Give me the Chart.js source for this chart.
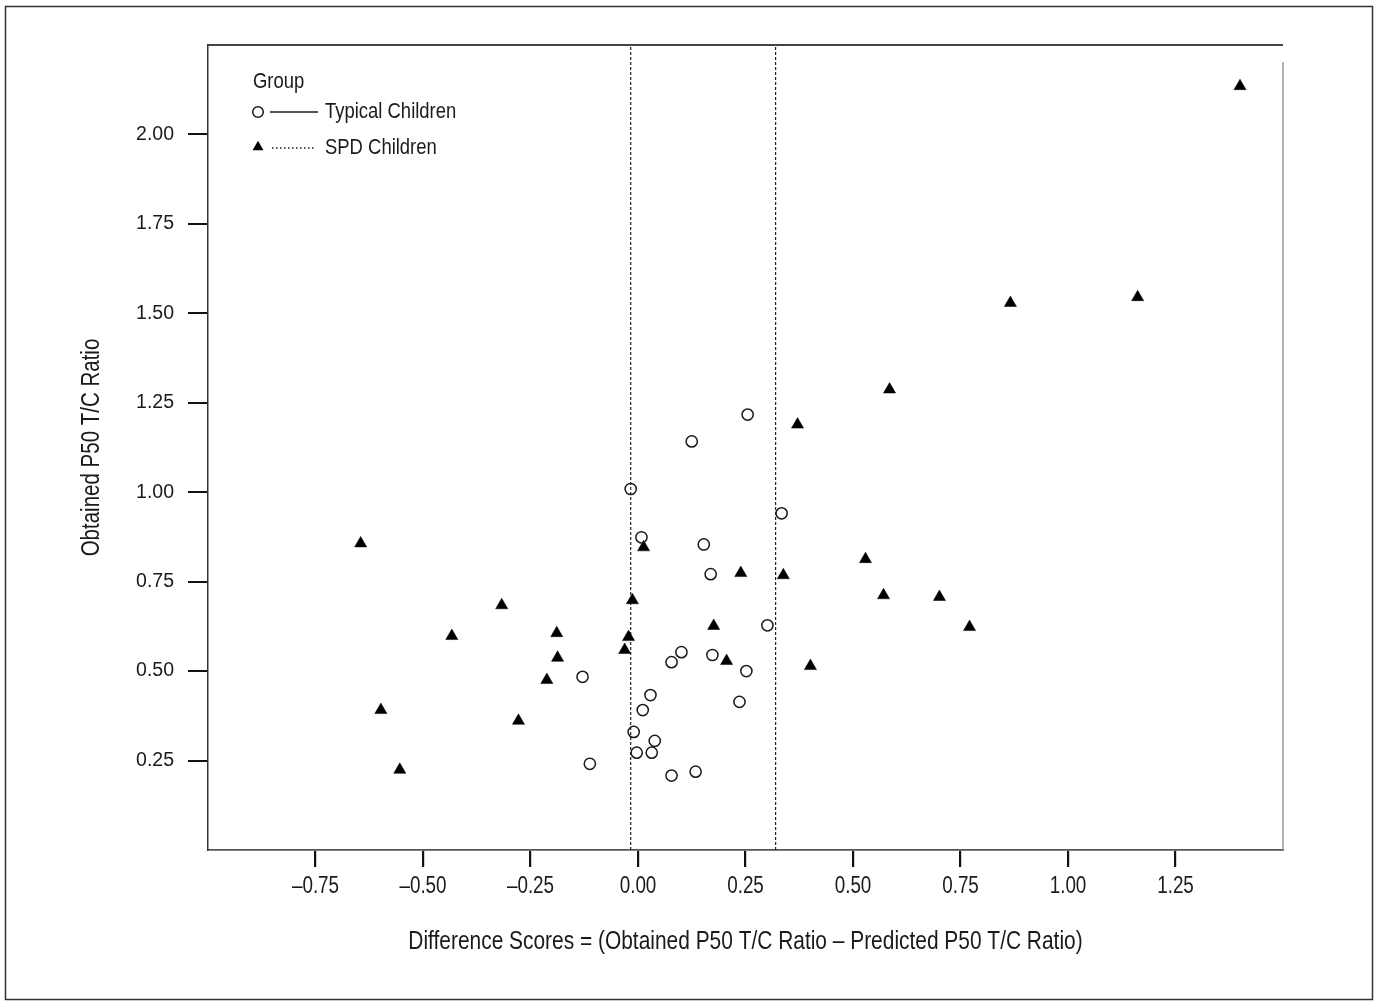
<!DOCTYPE html>
<html>
<head>
<meta charset="utf-8">
<script src="https://cdn.jsdelivr.net/npm/chart.js@4"></script>
<style>
  html, body { margin: 0; padding: 0; background: #fff; }
  #wrap { position: relative; width: 1380px; height: 1006px; }
</style>
</head>
<body>
<div id="wrap"><canvas id="c" width="1380" height="1006"></canvas></div>
<script>
// ---------- data ----------
const typicalX = [0.255, 0.125, -0.017, 0.334, 0.008, 0.153, 0.169, 0.301, 0.101, 0.078, 0.173, 0.252, -0.129, 0.029, 0.011, 0.236, -0.010, 0.039, -0.003, 0.032, -0.112, 0.078, 0.134];
const typicalY = [1.217, 1.142, 1.009, 0.941, 0.874, 0.854, 0.771, 0.628, 0.553, 0.525, 0.545, 0.500, 0.484, 0.433, 0.391, 0.414, 0.330, 0.305, 0.272, 0.272, 0.241, 0.208, 0.219];

const spdX = [1.400, 1.162, 0.866, 0.585, 0.371, -0.645, 0.013, 0.529, 0.239, 0.338, -0.317, -0.013, 0.571, 0.701, 0.771, 0.176, -0.433, -0.189, -0.022, -0.031, -0.187, 0.206, 0.401, -0.212, -0.598, -0.278, -0.554];
const spdY = [2.135, 1.545, 1.529, 1.287, 1.189, 0.857, 0.846, 0.813, 0.774, 0.768, 0.684, 0.698, 0.712, 0.707, 0.623, 0.626, 0.598, 0.606, 0.595, 0.559, 0.537, 0.528, 0.514, 0.475, 0.391, 0.361, 0.224];

const cutoffLines = [-0.017, 0.32];

const xTickValues = [-0.75, -0.50, -0.25, 0.00, 0.25, 0.50, 0.75, 1.00, 1.25];
const xTickLabels = ['\u20130.75', '\u20130.50', '\u20130.25', '0.00', '0.25', '0.50', '0.75', '1.00', '1.25'];
const yTickValues = [0.25, 0.50, 0.75, 1.00, 1.25, 1.50, 1.75, 2.00];
const yTickLabels = ['0.25', '0.50', '0.75', '1.00', '1.25', '1.50', '1.75', '2.00'];

const xRange = [-1.0, 1.5];
const yRange = [0, 2.25];

const legendTitle = 'Group';
const seriesNames = ['Typical Children', 'SPD Children'];
const xTitle = 'Difference Scores = (Obtained P50 T/C Ratio \u2013 Predicted P50 T/C Ratio)';
const yTitle = 'Obtained P50 T/C Ratio';

// ---------- styling ----------
// "NarrowTag" is only a marker: the text is drawn in Liberation Sans, squeezed horizontally
const NARROW = "'Liberation Sans', NarrowTag, sans-serif";
const REG = "'Liberation Sans', Arial, sans-serif";
const SQUEEZE = 0.82;
const INK = '#1a1a1a';

const canvas = document.getElementById('c');
const ctx2d = canvas.getContext('2d');
const origFillText = ctx2d.fillText.bind(ctx2d);
ctx2d.fillText = function (text, x, y, maxWidth) {
  if (String(this.font).indexOf('NarrowTag') !== -1) {
    this.save();
    this.translate(x, y);
    this.scale(SQUEEZE, 1);
    origFillText(text, 0, 0);
    this.restore();
  } else if (maxWidth !== undefined) {
    origFillText(text, x, y, maxWidth);
  } else {
    origFillText(text, x, y);
  }
};

const toPts = (xs, ys) => xs.map((x, i) => ({ x: x, y: ys[i] }));

const datasets = [
  {
    label: seriesNames[0],
    data: toPts(typicalX, typicalY),
    pointStyle: 'circle',
    pointRadius: 5.6,
    borderWidth: 1.5,
    borderColor: INK,
    backgroundColor: 'rgba(255,255,255,0)',
    showLine: false
  },
  {
    label: seriesNames[1],
    data: toPts(spdX, spdY),
    pointStyle: 'triangle',
    pointRadius: 7,
    borderWidth: 0.5,
    borderColor: '#000',
    backgroundColor: '#000',
    showLine: false
  }
];
cutoffLines.forEach((c) => {
  datasets.push({
    type: 'line',
    data: [{ x: c, y: yRange[0] }, { x: c, y: yRange[1] }],
    showLine: true,
    borderColor: '#222',
    borderWidth: 1.2,
    borderDash: [3, 2],
    pointRadius: 0,
    fill: false
  });
});

const framePlugin = {
  id: 'frame',
  beforeDraw(chart) {
    const ctx = chart.ctx;
    ctx.save();
    ctx.fillStyle = '#fff';
    ctx.fillRect(0, 0, chart.width, chart.height);
    ctx.strokeStyle = '#333';
    ctx.lineWidth = 1.5;
    ctx.strokeRect(5.5, 6.5, 1367, 993);
    ctx.restore();
  },
  afterDraw(chart) {
    const ctx = chart.ctx;
    const a = chart.chartArea;
    ctx.save();
    ctx.strokeStyle = '#444';
    ctx.lineWidth = 2;
    ctx.beginPath();
    ctx.moveTo(a.left, a.top);
    ctx.lineTo(a.right, a.top);
    ctx.stroke();
    ctx.strokeStyle = '#999';
    ctx.lineWidth = 1.5;
    ctx.beginPath();
    ctx.moveTo(a.right, a.top + 17);
    ctx.lineTo(a.right, a.bottom);
    ctx.stroke();
    ctx.restore();
  }
};

const legendPlugin = {
  id: 'insideLegend',
  afterDatasetsDraw(chart) {
    const ctx = chart.ctx;
    const a = chart.chartArea;
    const L = a.left, T = a.top;
    ctx.save();
    ctx.fillStyle = INK;
    ctx.font = "22.5px " + NARROW;
    ctx.textBaseline = 'middle';
    ctx.textAlign = 'left';
    ctx.fillText(legendTitle, L + 45, T + 37);

    // entry 1: open circle + solid line
    ctx.strokeStyle = INK;
    ctx.lineWidth = 1.5;
    ctx.beginPath();
    ctx.arc(L + 50, T + 67, 5.3, 0, Math.PI * 2);
    ctx.stroke();
    ctx.lineWidth = 1.3;
    ctx.beginPath();
    ctx.moveTo(L + 62, T + 67);
    ctx.lineTo(L + 110, T + 67);
    ctx.stroke();
    ctx.fillText(seriesNames[0], L + 117, T + 67);

    // entry 2: filled triangle + dotted line
    const tx = L + 50, ty = T + 102, r = 6.3;
    ctx.fillStyle = '#000';
    ctx.beginPath();
    ctx.moveTo(tx, ty - r);
    ctx.lineTo(tx + 0.866 * r, ty + 0.5 * r);
    ctx.lineTo(tx - 0.866 * r, ty + 0.5 * r);
    ctx.closePath();
    ctx.fill();
    ctx.setLineDash([1.5, 2.5]);
    ctx.beginPath();
    ctx.moveTo(L + 64, T + 103);
    ctx.lineTo(L + 108, T + 103);
    ctx.stroke();
    ctx.setLineDash([]);
    ctx.fillStyle = INK;
    ctx.fillText(seriesNames[1], L + 117, T + 103);
    ctx.restore();
  }
};

new Chart(canvas, {
  type: 'scatter',
  data: { datasets: datasets },
  options: {
    responsive: false,
    animation: false,
    events: [],
    layout: { padding: { left: 0, top: 45, right: 97, bottom: 0 } },
    plugins: {
      legend: { display: false },
      tooltip: { enabled: false },
      title: { display: false }
    },
    scales: {
      x: {
        type: 'linear',
        min: xRange[0],
        max: xRange[1],
        afterFit(s) { s.height = 156; },
        afterBuildTicks(s) { s.ticks = xTickValues.map(v => ({ value: v })); },
        ticks: {
          callback: (v, i) => xTickLabels[i],
          color: INK,
          font: { family: NARROW, size: 23 },
          padding: 6,
          maxRotation: 0,
          autoSkip: false
        },
        grid: { drawOnChartArea: false, drawTicks: true, tickLength: 17, color: '#111', lineWidth: 2.2 },
        border: { display: true, color: '#555', width: 1.8 },
        title: {
          display: true,
          text: xTitle,
          color: INK,
          font: { family: NARROW, size: 25.5 },
          padding: { top: 0, bottom: 48.5 }
        }
      },
      y: {
        type: 'linear',
        min: yRange[0],
        max: yRange[1],
        afterFit(s) { s.width = 208; },
        afterBuildTicks(s) { s.ticks = yTickValues.map(v => ({ value: v })); },
        ticks: {
          callback: (v, i) => yTickLabels[i],
          color: INK,
          font: { family: REG, size: 19.5 },
          padding: 14,
          autoSkip: false
        },
        grid: { drawOnChartArea: false, drawTicks: true, tickLength: 20, color: '#111', lineWidth: 2 },
        border: { display: true, color: '#333', width: 1.5 },
        title: {
          display: true,
          text: yTitle,
          color: INK,
          font: { family: NARROW, size: 25 },
          padding: { top: 77, bottom: 0 }
        }
      }
    }
  },
  plugins: [framePlugin, legendPlugin]
});
</script>
</body>
</html>
